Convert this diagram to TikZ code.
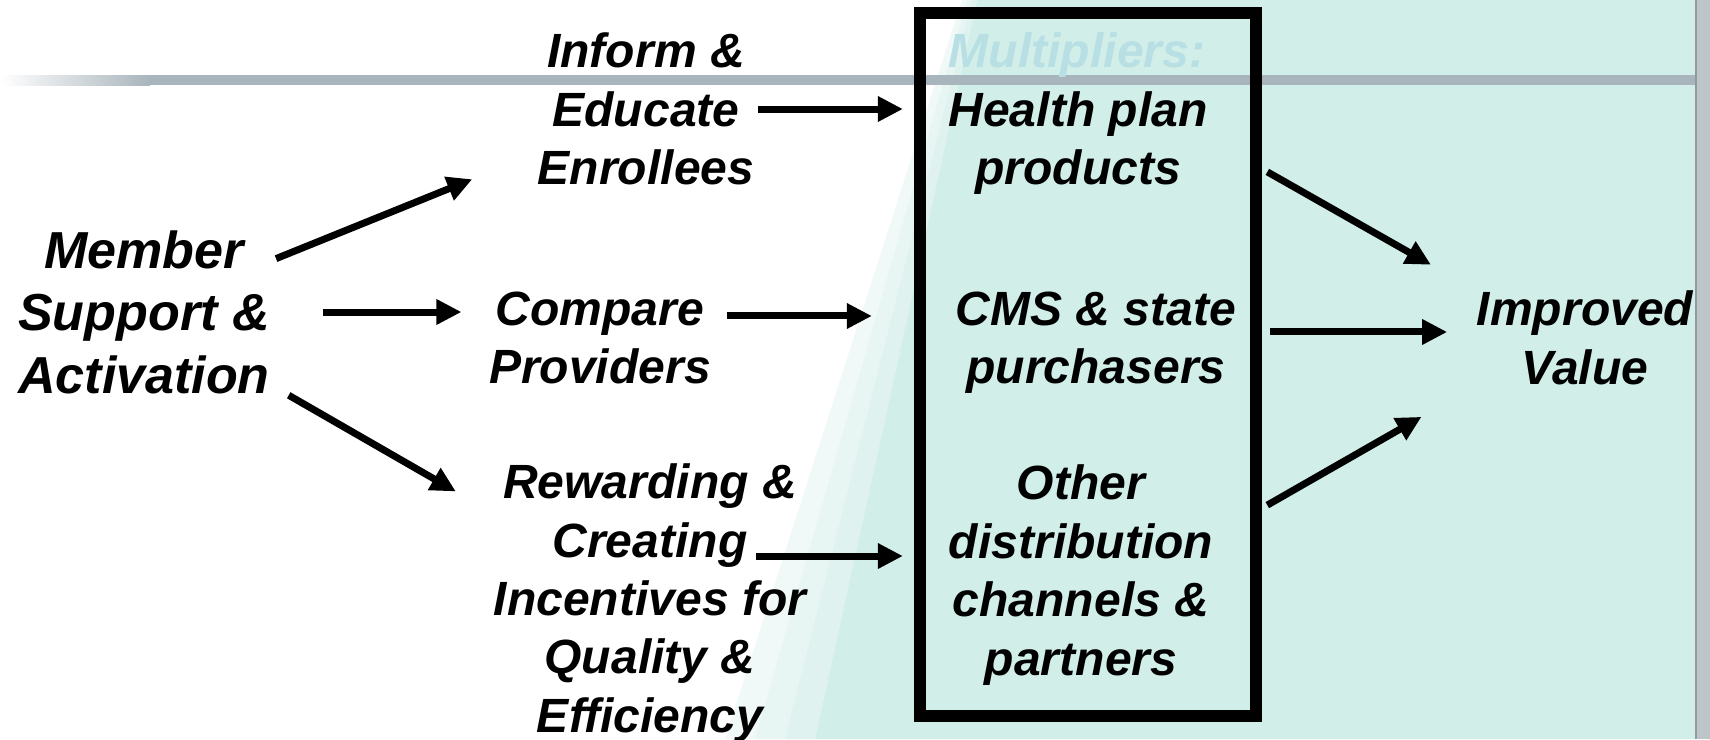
\documentclass[tikz,border=0pt]{standalone}
\usepackage{fontspec}
\setmainfont{Liberation Sans}
\usetikzlibrary{arrows.meta}
\definecolor{slide-teal}{RGB}{209,238,233}
\definecolor{slide-bar}{RGB}{169,181,188}
\definecolor{slide-edge}{RGB}{190,197,201}
\definecolor{multi-text}{RGB}{183,223,228}

\begin{document}
\begin{tikzpicture}[x=0.01cm, y=-0.01cm,
    lbl/.style={align=center, inner sep=0pt,
                font=\fontsize{13.66}{16.6}\selectfont\bfseries\itshape},
    biglbl/.style={lbl, font=\fontsize{14.8}{17.8}\selectfont\bfseries\itshape},
    frame/.style={draw, line width=0.12cm, inner sep=0pt,
                  minimum width=3.36cm, minimum height=7.03cm},
    arr/.style={-{Triangle[length=0.25cm, width=0.24cm]}, line width=0.07cm},
]
\useasboundingbox (0,0) rectangle (1710,739);

% slide background
\fill[white] (0,0) rectangle (1710,739);
\foreach \t/\b in {15/90, 10/60, 5/30}
    \fill[slide-teal, fill opacity=0.3] (977-\t,0) -- (977,0) -- (815,739) -- (815-\b,739) -- cycle;
\fill[slide-teal] (977,0) -- (1710,0) -- (1710,739) -- (815,739) -- cycle;
\shade[left color=white, right color=slide-bar] (0,75) rectangle (150,85);
\fill[slide-bar] (150,75) rectangle (1695,85);
\fill[slide-edge] (1695,0) rectangle (1710,739);
\draw[slide-bar!85!black, line width=0.02cm] (1696,0) -- (1696,739);

\node[frame] (mult) at (1088,364.5) {};

\node[biglbl] (member) at (144,312) {Member\\Support \&\\Activation};

\node[lbl] (inform) at (646,109) {Inform \&\\Educate\\Enrollees};
\node[lbl] (compare) at (600,338) {Compare\\Providers};
\node[lbl] (reward) at (650,603)
    {Rewarding \&\\Creating\\Incentives for\\Quality \&\\Efficiency};

\node[lbl, text=multi-text] (multi) at (1077,55) {Multipliers:};
\node[lbl] (health) at (1078,143) {Health plan\\products};
\node[lbl] (cms) at (1096,343) {CMS \& state\\purchasers};
\node[lbl] (other) at (1081,575) {Other\\distribution\\channels \&\\partners};

\node[lbl] (value) at (1585,338) {Improved\\Value};

% arrow ports
\coordinate (cmp-out) at ([yshift=0.22cm]compare.east);
\coordinate (crt-out) at (756,556);
\coordinate (hp-out) at ([yshift=1.955cm]mult.east);
\coordinate (cms-out) at ([yshift=0.325cm]mult.east);
\coordinate (oth-out) at ([yshift=-1.435cm]mult.east);

\draw[arr, shorten <=0.06cm, shorten >=0.7cm] (member) -- (inform);
\draw[arr, shorten <=0.52cm, shorten >=0.27cm] (member.east) -- (member.east -| compare.west);
\draw[arr, shorten <=0.21cm, shorten >=0.43cm] (member) -- (reward);

\draw[arr, shorten <=0.03cm, shorten >=0.11cm] (inform.east) -- (inform.east -| mult.west);
\draw[arr, shorten <=0.15cm, shorten >=0.42cm] (cmp-out) -- (cmp-out -| mult.west);
\draw[arr, shorten >=0.11cm] (crt-out) -- (crt-out -| mult.west);

\draw[arr, shorten <=0.06cm, shorten >=0.52cm] (hp-out) -- (value.north west);
\draw[arr, shorten <=0.08cm, shorten >=0.29cm] (cms-out) -- (cms-out -| value.west);
\draw[arr, shorten <=0.06cm, shorten >=0.63cm] (oth-out) -- (value.south west);

\end{tikzpicture}
\end{document}
